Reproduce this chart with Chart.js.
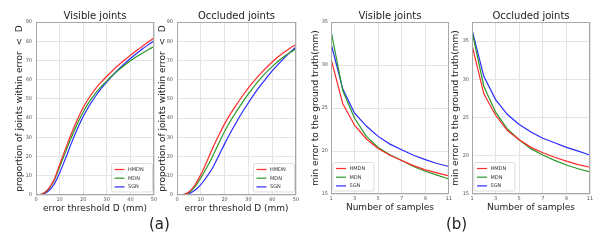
<!DOCTYPE html>
<html><head><meta charset="utf-8">
<script src="https://cdn.jsdelivr.net/npm/chart.js@4"></script>
<style>
html,body{margin:0;padding:0;background:#fff;}
body{width:598px;height:242px;position:relative;overflow:hidden;}
canvas{position:absolute;top:0;}
.lab{position:absolute;font-family:"DejaVu Sans";font-size:15px;line-height:15px;color:#222;top:217px;}
</style></head><body>
<canvas id="c1" width="160" height="217" style="left:0px;width:160px;height:217px"></canvas>
<canvas id="c2" width="152" height="217" style="left:150px;width:152px;height:217px"></canvas>
<canvas id="c3" width="154" height="216" style="left:300px;width:154px;height:216px"></canvas>
<canvas id="c4" width="153" height="216" style="left:445px;width:153px;height:216px"></canvas>
<div class="lab" style="left:149px">(a)</div>
<div class="lab" style="left:446px">(b)</div>
<script>
// ---- data ----
const seriesNames = ['HMDN', 'MDN', 'SGN'];
const thresholds = [0, 2.5, 5, 7.5, 10, 12.5, 15, 17.5, 20, 22.5, 25, 27.5, 30, 32.5, 35, 37.5, 40, 42.5, 45, 47.5, 50];
const visHMDN = [0, 0.5, 2.8, 7.5, 15.8, 24.0, 32.0, 39.2, 45.5, 50.6, 55.0, 58.6, 61.8, 64.8, 67.6, 70.2, 72.7, 75.0, 77.3, 79.6, 81.8];
const visMDN  = [0, 0.5, 2.6, 7.0, 14.6, 22.3, 30.0, 37.0, 43.2, 48.3, 52.6, 56.2, 59.4, 62.3, 65.0, 67.5, 69.8, 71.9, 73.8, 75.6, 77.2];
const visSGN  = [0, 0.3, 1.8, 5.2, 11.5, 19.0, 27.0, 34.3, 40.8, 46.3, 51.0, 55.2, 58.9, 62.3, 65.4, 68.3, 71.0, 73.5, 75.9, 78.1, 80.2];
const occHMDN = [0, 0.2, 1.6, 5.2, 10.6, 17.3, 24.5, 31.0, 37.0, 42.3, 47.0, 51.5, 55.7, 59.5, 63.0, 66.2, 69.2, 71.9, 74.3, 76.4, 78.2];
const occMDN  = [0, 0.15, 1.2, 4.2, 8.9, 14.3, 20.2, 26.8, 33.0, 38.6, 43.5, 48.2, 52.6, 56.7, 60.4, 63.8, 66.8, 69.6, 72.0, 74.1, 76.0];
const occSGN  = [0, 0.1, 0.7, 2.5, 5.4, 9.5, 14.2, 20.3, 26.6, 32.5, 38.0, 43.2, 48.0, 52.6, 56.9, 60.8, 64.6, 68.0, 71.2, 74.2, 77.0];
const samples = [1, 2, 3, 4, 5, 6, 7, 8, 9, 10, 11];
const minVisHMDN = [30.7, 25.5, 23.0, 21.4, 20.3, 19.5, 18.9, 18.3, 17.8, 17.45, 17.1];
const minVisMDN  = [34.0, 27.0, 23.8, 21.7, 20.4, 19.55, 18.9, 18.2, 17.65, 17.2, 16.75];
const minVisSGN  = [32.5, 27.2, 24.4, 22.9, 21.7, 20.8, 20.15, 19.5, 19.0, 18.55, 18.2];
const minOccHMDN = [34.5, 28.1, 25.3, 23.3, 22.1, 21.1, 20.4, 19.8, 19.3, 18.85, 18.5];
const minOccMDN  = [36.3, 29.1, 25.7, 23.5, 22.1, 20.9, 20.1, 19.4, 18.8, 18.3, 17.9];
const minOccSGN  = [36.5, 30.4, 27.35, 25.4, 24.1, 23.1, 22.3, 21.7, 21.1, 20.6, 20.1];
const pckTicksY = [0, 10, 20, 30, 40, 50, 60, 70, 80, 90];
const pckTicksX = [0, 10, 20, 30, 40, 50];
const minTicksY = [15, 20, 25, 30, 35];
const minTicksX = [1, 3, 5, 7, 9, 11];

const colors = ['#ff2a2a', '#2a9a2a', '#2a2aff'];
const FONT = 'DejaVu Sans';

const frame = {
  id: 'frame',
  afterDatasetsDraw(chart) {
    const {ctx, chartArea: a} = chart;
    ctx.save();
    ctx.strokeStyle = '#a8a8a8';
    ctx.lineWidth = 1;
    ctx.strokeRect(Math.round(a.left) + 0.5, Math.round(a.top) + 0.5, Math.round(a.right - a.left) - 1, Math.round(a.bottom - a.top) - 1);
    ctx.restore();
  },
  afterDraw(chart) {
    const o = chart.options.plugins.frame;
    const {ctx, chartArea: a} = chart;
    const w = 41, h = 28.5;
    const x0 = o.corner === 'br' ? a.right - 1.5 - w : a.left + 2;
    const y0 = a.bottom - 3 - h;
    ctx.save();
    ctx.fillStyle = 'rgba(255,255,255,0.9)';
    ctx.strokeStyle = '#d4d4d4';
    ctx.lineWidth = 0.8;
    ctx.beginPath();
    ctx.roundRect(x0, y0, w, h, 2);
    ctx.fill(); ctx.stroke();
    ctx.font = '5px "' + FONT + '"';
    ctx.textBaseline = 'middle';
    ctx.fillStyle = '#333';
    chart.data.datasets.forEach((ds, i) => {
      const yy = y0 + 6 + i * 8.7;
      ctx.strokeStyle = ds.borderColor;
      ctx.lineWidth = 1.2;
      ctx.beginPath(); ctx.moveTo(x0 + 3, yy); ctx.lineTo(x0 + 13, yy); ctx.stroke();
      ctx.fillText(ds.label, x0 + 16.5, yy + 0.3);
    });
    ctx.restore();
  }
};

function makeChart(id, cfg) {
  const datasets = cfg.series.map((s, i) => ({
    label: seriesNames[i],
    data: cfg.xs.map((x, k) => ({x: x, y: s[k]})),
    borderColor: colors[i],
    borderWidth: 1.2,
    pointRadius: 0,
    fill: false,
    tension: 0,
    cubicInterpolationMode: cfg.smooth ? 'monotone' : 'default'
  }));
  new Chart(document.getElementById(id), {
    type: 'line',
    data: {datasets},
    plugins: [frame],
    options: {
      responsive: false,
      animation: false,
      events: [],
      layout: {padding: {left: 0, right: cfg.padRight, top: 0, bottom: 0}},
      plugins: {
        legend: {display: false},
        tooltip: {enabled: false},
        frame: {corner: cfg.corner},
        title: {
          display: true, text: cfg.title, fullSize: false,
          color: '#222', font: {family: FONT, size: 10, weight: 'normal'},
          padding: {top: 10, bottom: 0}
        }
      },
      scales: {
        x: {
          type: 'linear', min: cfg.xmin, max: cfg.xmax,
          afterBuildTicks: sc => { sc.ticks = cfg.xticks.map(v => ({value: v})); },
          afterFit: sc => { sc.height = cfg.xh; },
          grid: {color: '#e4e4e4', lineWidth: 1, drawTicks: false},
          border: {display: false},
          ticks: {color: '#555', font: {family: FONT, size: 5}, padding: 2, maxRotation: 0, autoSkip: false},
          title: {display: true, text: cfg.xtitle, color: '#222', font: {family: FONT, size: 9}, padding: {top: 0, bottom: 2.6}}
        },
        y: {
          type: 'linear', min: cfg.ymin, max: cfg.ymax,
          afterBuildTicks: sc => { sc.ticks = cfg.yticks.map(v => ({value: v})); },
          afterFit: sc => { sc.width = cfg.yw; },
          grid: {color: '#e4e4e4', lineWidth: 1, drawTicks: false},
          border: {display: false},
          ticks: {color: '#555', font: {family: FONT, size: 5}, padding: cfg.ytp, autoSkip: false},
          title: {display: true, text: cfg.ytitle, color: '#222', font: {family: FONT, size: 9}, padding: {top: cfg.ytitlePad, bottom: 0}}
        }
      }
    }
  });
}

const pckY = 'proportion of joints within error  <  D';
const minY = 'min error to the ground truth(mm)';

makeChart('c1', {title: 'Visible joints', xs: thresholds, series: [visHMDN, visMDN, visSGN], smooth: true,
  xmin: 0, xmax: 50, ymin: 0, ymax: 90, xticks: pckTicksX, yticks: pckTicksY,
  xtitle: 'error threshold D (mm)', ytitle: pckY, padRight: 6, yw: 36, xh: 22, ytp: 4, ytitlePad: 14.6, corner: 'br'});
makeChart('c2', {title: 'Occluded joints', xs: thresholds, series: [occHMDN, occMDN, occSGN], smooth: true,
  xmin: 0, xmax: 50, ymin: 0, ymax: 90, xticks: pckTicksX, yticks: pckTicksY,
  xtitle: 'error threshold D (mm)', ytitle: pckY, padRight: 6, yw: 27, xh: 22, ytp: 4, ytitlePad: 7.6, corner: 'br'});
makeChart('c3', {title: 'Visible joints', xs: samples, series: [minVisHMDN, minVisMDN, minVisSGN], smooth: false,
  xmin: 1, xmax: 11, ymin: 15, ymax: 35, xticks: minTicksX, yticks: minTicksY,
  xtitle: 'Number of samples', ytitle: minY, padRight: 5, yw: 31, xh: 22, ytp: 3, ytitlePad: 10.6, corner: 'bl'});
makeChart('c4', {title: 'Occluded joints', xs: samples, series: [minOccHMDN, minOccMDN, minOccSGN], smooth: false,
  xmin: 1, xmax: 11, ymin: 15, ymax: 37.5, xticks: minTicksX, yticks: minTicksY,
  xtitle: 'Number of samples', ytitle: minY, padRight: 8, yw: 27, xh: 22, ytp: 3, ytitlePad: 5.1, corner: 'bl'});
</script>
</body></html>
